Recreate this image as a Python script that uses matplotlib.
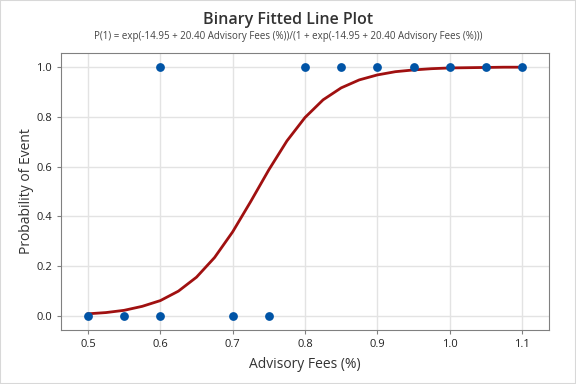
import matplotlib
matplotlib.use("Agg")
import matplotlib.pyplot as plt
from matplotlib.patches import Rectangle

plt.rcParams['font.family'] = ['Open Sans', 'DejaVu Sans']

# observed data
fees = [0.5, 0.55, 0.6, 0.7, 0.75, 0.6, 0.8, 0.85, 0.9, 0.95, 1.0, 1.05, 1.1]
event = [0, 0, 0, 0, 0, 1, 1, 1, 1, 1, 1, 1, 1]

# fitted curve
fit_x = [0.5, 0.525, 0.55, 0.575, 0.6, 0.625, 0.65, 0.675, 0.7, 0.725, 0.75,
         0.775, 0.8, 0.825, 0.85, 0.875, 0.9, 0.925, 0.95, 0.975, 1.0,
         1.025, 1.05, 1.075, 1.1]
fit_p = [0.009, 0.014, 0.023, 0.039, 0.062, 0.100, 0.156, 0.235, 0.338, 0.460,
         0.587, 0.703, 0.797, 0.868, 0.916, 0.948, 0.968, 0.981, 0.988, 0.993,
         0.996, 0.997, 0.998, 0.999, 0.999]

xticks = [0.5, 0.6, 0.7, 0.8, 0.9, 1.0, 1.1]
yticks = [0.0, 0.2, 0.4, 0.6, 0.8, 1.0]

fig = plt.figure(figsize=(5.76, 3.84), dpi=100)
ax = fig.add_axes([61 / 576, 1 - 330 / 384, 488 / 576, 277 / 384])

ax.plot(fit_x, fit_p, color='#A01010', lw=2, zorder=2)
ax.scatter(fees, event, s=40, color='#0054A6', zorder=3, linewidths=0)

ax.set_xlim(0.4627, 1.1373)
ax.set_ylim(-0.056, 1.056)
ax.set_xticks(xticks)
ax.set_xticklabels([f'{t:.1f}' for t in xticks])
ax.set_yticks(yticks)
ax.set_yticklabels([f'{t:.1f}' for t in yticks])
ax.grid(True, color='#E3E3E3', lw=1)
ax.set_axisbelow(True)
for s in ax.spines.values():
    s.set_color('#808080')
ax.tick_params(colors='#808080', labelcolor='#222222', labelsize=8, length=3)

ax.set_xlabel('Advisory Fees (%)', fontsize=10, color='#333333', labelpad=5)
ax.set_ylabel('Probability of Event', fontsize=10, color='#333333')
ax.yaxis.set_label_coords(-0.056, 0.5)

fig.text(0.5, 1 - 20 / 384, 'Binary Fitted Line Plot', ha='center', va='center',
         fontsize=11.5, fontweight='semibold', color='#333333')
fig.text(0.5, 1 - 37 / 384,
         'P(1) = exp(-14.95 + 20.40 Advisory Fees (%))/(1 + exp(-14.95 + 20.40 Advisory Fees (%)))',
         ha='center', va='center', fontsize=7, color='#444444')

fig.patches.append(Rectangle((0, 0), 1, 1, transform=fig.transFigure, fill=False,
                             edgecolor='#D8D8D8', lw=1.5))

fig.savefig('out.png', dpi=100)
